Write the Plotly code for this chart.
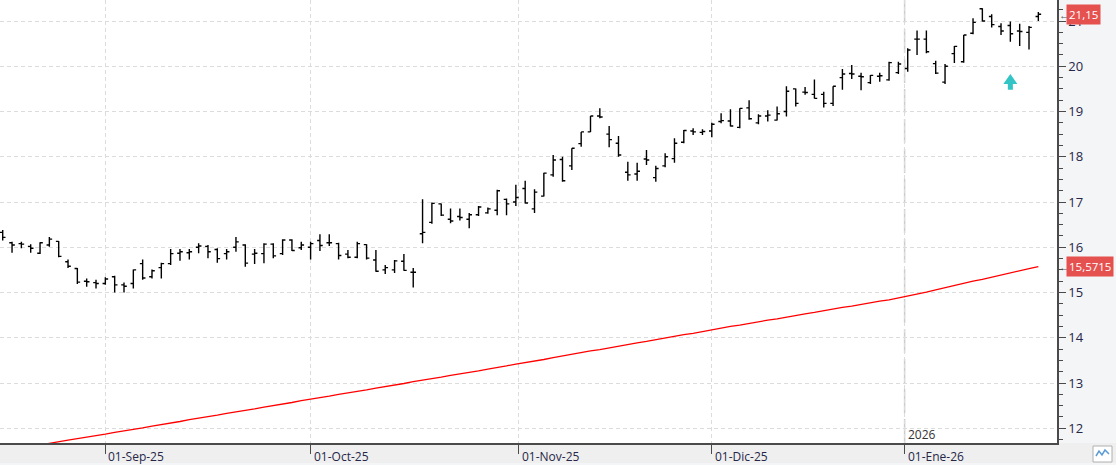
import pandas as pd
import plotly.graph_objects as go

# ---------------- data ----------------
holidays = ["2025-12-25", "2025-12-26", "2026-01-01"]
dates = [d for d in pd.bdate_range("2025-08-15", "2026-01-22") if d.strftime("%Y-%m-%d") not in holidays]

opens = [16.33, 16.10, 16.08, 16.02, 15.87, 16.05, 16.13, 15.68, 15.53, 15.25,
         15.22, 15.20, 15.35, 15.17, 15.20, 15.64, 15.35, 15.55, 15.64, 15.87,
         15.88, 16.00, 16.02, 15.95, 15.86, 16.00, 16.05, 15.85, 15.86, 16.07,
         15.86, 16.16, 15.99, 16.00, 16.15, 16.10, 16.08, 15.85, 15.78, 16.06,
         15.72, 15.50, 15.50, 15.69, 15.45, 16.30, 16.55, 16.96, 16.62, 16.68,
         16.62, 16.72, 16.76, 16.82, 17.06, 17.00, 17.30, 16.85, 17.13, 17.60,
         17.94, 17.80, 18.29, 18.55, 18.90, 18.50, 18.30, 17.66, 17.62, 17.95,
         17.54, 17.80, 17.96, 18.32, 18.57, 18.54, 18.57, 18.78, 18.79, 18.65,
         19.08, 18.75, 18.90, 18.81, 19.00, 19.50, 19.43, 19.38, 19.38, 19.18,
         19.75, 19.84, 19.78, 19.64, 19.78, 19.70, 19.86, 19.95, 20.60, 20.60,
         20.06, 19.65, 20.28, 20.10, 20.73, 21.27, 21.10, 20.88, 20.90, 20.78,
         20.75, 21.10]
highs = [16.38, 16.12, 16.12, 16.07, 16.11, 16.23, 16.14, 15.73, 15.54, 15.31,
         15.28, 15.34, 15.37, 15.22, 15.51, 15.73, 15.51, 15.66, 15.96, 15.96,
         15.96, 16.09, 16.05, 15.98, 15.96, 16.23, 16.07, 15.96, 16.09, 16.09,
         16.18, 16.18, 16.12, 16.12, 16.29, 16.29, 16.10, 15.94, 16.12, 16.07,
         15.94, 15.61, 15.72, 15.85, 15.54, 17.06, 16.99, 16.97, 16.86, 16.86,
         16.76, 16.91, 16.88, 17.27, 17.08, 17.38, 17.47, 17.28, 17.65, 18.04,
         18.00, 18.19, 18.55, 18.90, 19.07, 18.68, 18.46, 17.89, 17.87, 18.15,
         17.80, 18.08, 18.41, 18.59, 18.63, 18.61, 18.75, 18.96, 19.05, 19.07,
         19.25, 18.94, 19.03, 19.11, 19.56, 19.51, 19.54, 19.71, 19.44, 19.56,
         19.94, 20.03, 19.86, 19.81, 19.86, 20.10, 20.10, 20.40, 20.79, 20.79,
         20.12, 20.05, 20.45, 20.69, 21.06, 21.28, 21.15, 20.95, 20.99, 20.94,
         20.89, 21.20]
lows = [16.15, 15.88, 15.98, 15.88, 15.85, 16.01, 15.78, 15.54, 15.19, 15.13,
        15.09, 15.17, 15.00, 15.00, 15.09, 15.28, 15.31, 15.31, 15.61, 15.70,
        15.73, 15.87, 15.76, 15.66, 15.73, 15.90, 15.57, 15.63, 15.65, 15.76,
        15.83, 15.92, 15.94, 15.73, 15.92, 16.03, 15.73, 15.76, 15.76, 15.73,
        15.46, 15.41, 15.43, 15.48, 15.11, 16.09, 16.52, 16.69, 16.53, 16.59,
        16.42, 16.69, 16.74, 16.71, 16.71, 16.91, 16.97, 16.76, 17.12, 17.56,
        17.45, 17.71, 18.22, 18.55, 18.85, 18.21, 18.00, 17.47, 17.47, 17.82,
        17.45, 17.77, 17.87, 18.30, 18.48, 18.48, 18.43, 18.74, 18.67, 18.63,
        18.82, 18.72, 18.78, 18.80, 18.89, 19.11, 19.37, 19.29, 19.09, 19.12,
        19.48, 19.72, 19.47, 19.61, 19.66, 19.68, 19.83, 19.88, 20.25, 20.29,
        19.83, 19.61, 20.07, 20.08, 20.71, 20.99, 20.86, 20.69, 20.54, 20.45,
        20.37, 21.00]
closes = [16.22, 16.05, 16.07, 15.98, 16.10, 16.18, 15.80, 15.58, 15.23, 15.24,
          15.20, 15.30, 15.17, 15.14, 15.50, 15.32, 15.48, 15.64, 15.86, 15.90,
          15.90, 16.03, 15.90, 15.75, 15.90, 16.12, 15.65, 15.87, 16.07, 15.81,
          16.16, 15.93, 16.05, 16.08, 16.04, 16.10, 15.82, 15.78, 16.08, 15.76,
          15.47, 15.55, 15.70, 15.49, 15.45, 16.33, 16.97, 16.71, 16.58, 16.66,
          16.72, 16.89, 16.85, 17.25, 16.96, 17.10, 16.98, 17.22, 17.64, 17.93,
          17.47, 18.19, 18.55, 18.90, 18.88, 18.38, 18.04, 17.60, 17.68, 17.93,
          17.74, 18.00, 18.30, 18.58, 18.55, 18.56, 18.72, 18.80, 18.68, 19.07,
          18.84, 18.90, 18.92, 18.95, 19.45, 19.18, 19.42, 19.29, 19.18, 19.56,
          19.83, 19.83, 19.77, 19.80, 19.79, 20.08, 20.05, 20.36, 20.60, 20.32,
          19.85, 20.00, 20.44, 20.69, 20.97, 21.00, 20.92, 20.78, 20.72, 20.77,
          20.86, 21.15]
moving_avg = [11.49, 11.53, 11.56, 11.60, 11.63, 11.67, 11.70, 11.74, 11.77, 11.80,
              11.84, 11.87, 11.91, 11.94, 11.98, 12.01, 12.05, 12.08, 12.12, 12.15,
              12.19, 12.22, 12.26, 12.29, 12.33, 12.36, 12.40, 12.43, 12.47, 12.50,
              12.54, 12.57, 12.61, 12.64, 12.68, 12.71, 12.75, 12.78, 12.82, 12.85,
              12.89, 12.92, 12.96, 12.99, 13.03, 13.06, 13.10, 13.13, 13.17, 13.20,
              13.24, 13.27, 13.31, 13.34, 13.38, 13.42, 13.45, 13.49, 13.52, 13.56,
              13.60, 13.63, 13.67, 13.71, 13.74, 13.78, 13.81, 13.85, 13.89, 13.92,
              13.96, 14.00, 14.03, 14.07, 14.10, 14.14, 14.18, 14.21, 14.25, 14.28,
              14.32, 14.35, 14.39, 14.42, 14.46, 14.49, 14.53, 14.56, 14.60, 14.63,
              14.67, 14.70, 14.74, 14.77, 14.81, 14.84, 14.88, 14.92, 14.97, 15.01,
              15.06, 15.11, 15.15, 15.20, 15.25, 15.29, 15.34, 15.39, 15.43, 15.48,
              15.53, 15.5715]

month_starts = ["2025-09-01", "2025-10-01", "2025-11-01", "2025-12-01", "2026-01-01"]
month_labels = ["01-Sep-25", "01-Oct-25", "01-Nov-25", "01-Dic-25", "01-Ene-26"]
price_ticks = [12, 13, 14, 15, 16, 17, 18, 19, 20, 21]
price_tick_labels = ["12", "13", "14", "15", "16", "17", "18", "19", "20", "21"]
signal_dates = ["2026-01-19"]
signal_prices = [19.48]
last_price_label = "21,15"
ma_label = "15,5715"
year_label = "2026"

assert len(dates) == len(opens) == len(highs) == len(lows) == len(closes) == len(moving_avg)

# ---------------- helpers ----------------
idx = list(range(len(dates)))
date_pos = {d.strftime("%Y-%m-%d"): i for i, d in enumerate(dates)}


def month_pos(ms):
    m = pd.Timestamp(ms)
    for i, d in enumerate(dates):
        if d >= m:
            return i - (d - m).days / 3.0
    return len(dates)


tick_pos = [month_pos(m) for m in month_starts]

PLOT_W, PLOT_H = 1057, 443
W, H = 1116, 465
FONT = "Open Sans"
LABEL_COLOR = "#262648"
AXIS_COLOR = "#4a4a4a"
GRID_COLOR = "#dcdcdc"

fig = go.Figure()
fig.add_trace(go.Ohlc(
    x=idx, open=opens, high=highs, low=lows, close=closes,
    increasing=dict(line=dict(color="#000000", width=1.4)),
    decreasing=dict(line=dict(color="#000000", width=1.4)),
    tickwidth=0.3, hoverinfo="skip", showlegend=False,
))
fig.add_trace(go.Scatter(
    x=idx, y=moving_avg, mode="lines",
    line=dict(color="#ff0000", width=1.3),
    hoverinfo="skip", showlegend=False,
))

shapes = []
# bottom band
shapes.append(dict(type="rect", xref="paper", yref="paper", x0=0, x1=W / PLOT_W,
                   y0=0, y1=-20 / PLOT_H, fillcolor="#efefef", line=dict(width=0), layer="below"))
# year separator
shapes.append(dict(type="line", xref="x", yref="paper", x0=tick_pos[-1], x1=tick_pos[-1],
                   y0=0, y1=1, line=dict(color="#cccccc", width=1.5, dash="24px,6px"), layer="below"))
# signal arrows
HEAD_HALF, SHAFT_HALF, SHAFT_H, HEAD_H = 0.75, 0.27, 0.13, 0.35
for sd, sp in zip(signal_dates, signal_prices):
    x = date_pos[sd]
    path = (f"M {x - SHAFT_HALF},{sp} L {x + SHAFT_HALF},{sp} L {x + SHAFT_HALF},{sp + SHAFT_H} "
            f"L {x + HEAD_HALF},{sp + SHAFT_H} L {x},{sp + HEAD_H} L {x - HEAD_HALF},{sp + SHAFT_H} "
            f"L {x - SHAFT_HALF},{sp + SHAFT_H} Z")
    shapes.append(dict(type="path", xref="x", yref="y", path=path,
                       fillcolor="#33c4c6", line=dict(width=0)))
# small icon bottom right
px = lambda v: v / PLOT_W
py = lambda v: (PLOT_H - v) / PLOT_H
shapes.append(dict(type="rect", xref="paper", yref="paper", x0=px(1093), x1=px(1112),
                   y0=py(446), y1=py(462), fillcolor="white", line=dict(color="#b0b0b0", width=1)))
zig = [(1096, 456), (1099, 451), (1102, 455), (1105, 450), (1109, 454)]
shapes.append(dict(type="path", xref="paper", yref="paper",
                   path="M " + " L ".join(f"{px(a)},{py(b)}" for a, b in zig),
                   line=dict(color="#5b9bd5", width=1.5)))

annotations = []
for pos, lab in zip(tick_pos, month_labels):
    annotations.append(dict(x=pos, y=-13 / PLOT_H, xref="x", yref="paper", text=lab,
                            showarrow=False, xanchor="left", yanchor="middle", xshift=1,
                            font=dict(family=FONT, size=12, color=LABEL_COLOR)))
annotations.append(dict(x=tick_pos[-1], y=9 / PLOT_H, xref="x", yref="paper", text=year_label,
                        showarrow=False, xanchor="left", yanchor="middle", xshift=1,
                        font=dict(family=FONT, size=12, color="#333333")))
for val, lab in [(closes[-1], last_price_label), (moving_avg[-1], ma_label)]:
    annotations.append(dict(x=1, y=val, xref="paper", yref="y", text="←", showarrow=False,
                            xanchor="left", yanchor="middle", xshift=0,
                            font=dict(family=FONT, size=11, color="#555555")))
    annotations.append(dict(x=1, y=val, xref="paper", yref="y", text=lab, showarrow=False,
                            xanchor="left", yanchor="middle", xshift=9, bgcolor="#e5514f",
                            borderpad=2, font=dict(family=FONT, size=11.5, color="white")))

fig.update_layout(
    width=W, height=H,
    margin=dict(l=0, r=W - PLOT_W, t=0, b=H - PLOT_H),
    paper_bgcolor="#f4f5f7", plot_bgcolor="white",
    showlegend=False, hovermode=False,
    shapes=shapes, annotations=annotations,
    xaxis=dict(
        range=[-0.29, 113.0], rangeslider=dict(visible=False),
        tickmode="array", tickvals=tick_pos, ticktext=["" for _ in tick_pos],
        showticklabels=False, ticks="outside", ticklen=9, tickwidth=1, tickcolor=AXIS_COLOR,
        showgrid=True, gridcolor=GRID_COLOR, griddash="4px,3px", gridwidth=1,
        showline=True, linecolor=AXIS_COLOR, linewidth=1.5, zeroline=False, fixedrange=True,
    ),
    yaxis=dict(
        side="right", range=[11.675, 21.465],
        tickmode="array", tickvals=price_ticks, ticktext=price_tick_labels,
        ticks="outside", ticklen=7, tickwidth=1, tickcolor=AXIS_COLOR,
        tickfont=dict(family=FONT, size=13, color=LABEL_COLOR),
        minor=dict(dtick=0.25, tick0=12, ticks="outside", ticklen=4, tickcolor=AXIS_COLOR,
                   tickwidth=1, showgrid=False),
        showgrid=True, gridcolor=GRID_COLOR, griddash="4px,3px", gridwidth=1,
        showline=True, linecolor=AXIS_COLOR, linewidth=1.5, zeroline=False, fixedrange=True,
    ),
)

fig.write_html("out.html")
